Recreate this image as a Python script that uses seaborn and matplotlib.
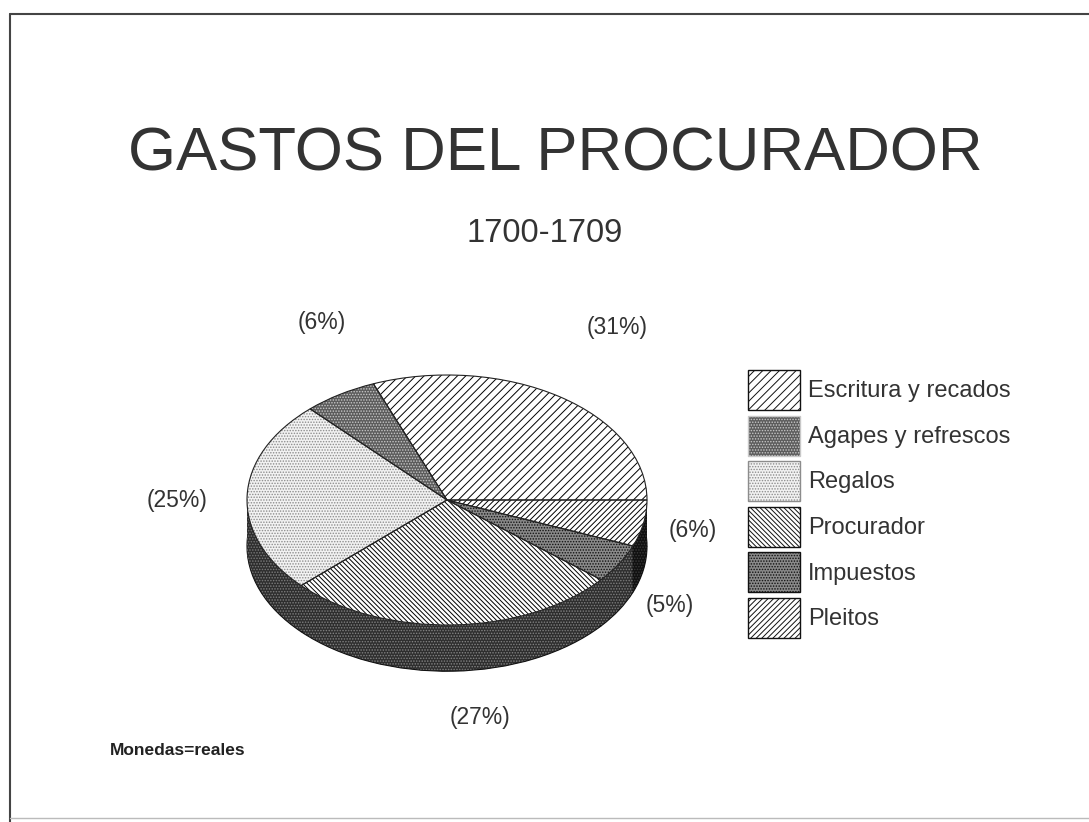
import matplotlib
matplotlib.use('Agg')
import matplotlib.pyplot as plt
import matplotlib.patches as mpatches
from matplotlib.lines import Line2D
import seaborn as sns
import numpy as np

# ---- data ----
categories = ['Escritura y recados', 'Agapes y refrescos', 'Regalos',
              'Procurador', 'Impuestos', 'Pleitos']
shares = [31, 6, 25, 27, 5, 6]
pct_labels = ['(31%)', '(6%)', '(25%)', '(27%)', '(5%)', '(6%)']

# ---- style ----
sns.set_theme(style='white')
plt.rcParams['font.family'] = ['Liberation Sans', 'DejaVu Sans']
plt.rcParams['hatch.linewidth'] = 0.7
TXT = '#333333'

top_face = ['white', '#5c5c5c', '#f2f2f2', 'white', '#8a8a8a', 'white']
top_hatch = ['////', '......', '......', '\\' * 7, '......', '//////']
top_hcol = ['black', '#c8c8c8', '#8c8c8c', 'black', '#111111', 'black']

side_face = ['#2e2e2e', '#2e2e2e', '#2e2e2e', '#2e2e2e', '#2e2e2e', '#111111']
side_hatch = ['......'] * 6
side_hcol = ['#8a8a8a'] * 5 + ['#444444']

label_xy = [(0.85, 1.38), (-0.625, 1.42), (-1.35, 0.0),
            (0.165, -1.74), (1.115, -0.84), (1.23, -0.24)]

fig = plt.figure(figsize=(10.89, 8.22), dpi=100)
ax = fig.add_axes([0, 0, 1, 1])

depth = 0.37
n_layers = 34

def style(wedges, hatches, hcols):
    for w, h, c in zip(wedges, hatches, hcols):
        w.set_hatch(h)
        w.set_edgecolor(c)

# side of the cylinder (stacked discs)
for k in range(n_layers, 0, -1):
    off = -depth * k / n_layers
    ws, _ = ax.pie(shares, center=(0, off), startangle=0, counterclock=True,
                   colors=side_face, wedgeprops=dict(linewidth=0))
    style(ws, side_hatch, side_hcol)
    if k == n_layers:
        ax.pie(shares, center=(0, off), startangle=0,
               wedgeprops=dict(fill=False, edgecolor='#111111', linewidth=0.8))

# top face
wedges, _ = ax.pie(shares, center=(0, 0), startangle=0, counterclock=True,
                   colors=top_face, wedgeprops=dict(linewidth=0))
style(wedges, top_hatch, top_hcol)
ax.pie(shares, center=(0, 0), startangle=0,
       wedgeprops=dict(fill=False, edgecolor='#222222', linewidth=0.8))

for (x, y), lab in zip(label_xy, pct_labels):
    ax.text(x, y, lab, ha='center', va='center', fontsize=16.5, color=TXT)

# map data units to pixels: center (447,500), rx=200px, ry=125px
W, H = 1089, 822
cx, cy, rx, ry = 447, 500, 200, 125
ax.set_aspect('auto')
ax.set_xlim(-cx / rx, (W - cx) / rx)
ax.set_ylim(-(H - cy) / ry, cy / ry)
ax.axis('off')

# titles
fig.text(555 / W, 1 - 155 / H, 'GASTOS DEL PROCURADOR', ha='center',
         va='center', fontsize=44.5, color=TXT)
fig.text(545 / W, 1 - 233 / H, '1700-1709', ha='center', va='center',
         fontsize=23.5, color=TXT)
fig.text(110 / W, 1 - 750 / H, 'Monedas=reales', ha='left', va='center',
         fontsize=12.5, color='#222222', fontweight='bold')

# legend
handles = []
for f, h, c in zip(top_face, top_hatch, top_hcol):
    handles.append(mpatches.Patch(facecolor=f, hatch=h,
                                  edgecolor=(c if c != 'black' else '#111111'),
                                  linewidth=1))
leg = fig.legend(handles, categories, loc='upper left',
                 bbox_to_anchor=(748 / W, 1 - 370 / H),
                 bbox_transform=fig.transFigure, frameon=False,
                 fontsize=17, handlelength=2.2, handleheight=2.23,
                 labelspacing=0.235, handletextpad=0.34, borderpad=0,
                 borderaxespad=0)
for t in leg.get_texts():
    t.set_color(TXT)
for p in leg.get_patches():
    p.set_linewidth(1.0)

# page frame
fig.add_artist(Line2D([10 / W, 10 / W], [0, 1 - 14 / H], color='#444444',
                      linewidth=1.5, transform=fig.transFigure))
fig.add_artist(Line2D([10 / W, 1], [1 - 14 / H, 1 - 14 / H], color='#444444',
                      linewidth=1.5, transform=fig.transFigure))
fig.add_artist(Line2D([10 / W, 1], [1 - 818 / H, 1 - 818 / H], color='#bbbbbb',
                      linewidth=1.0, transform=fig.transFigure))

fig.savefig('out.png', dpi=100, facecolor='white')
